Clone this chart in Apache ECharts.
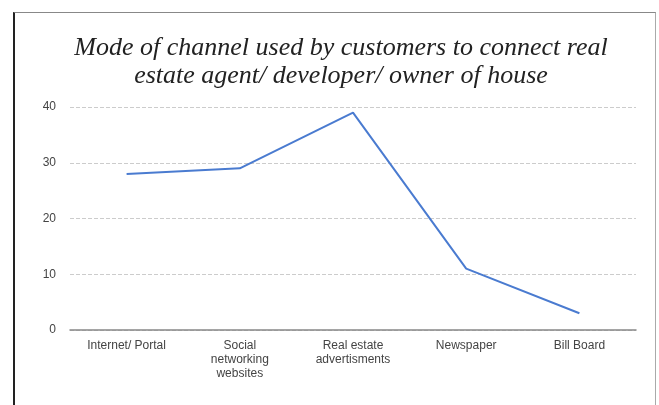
<!DOCTYPE html>
<html>
<head>
<meta charset="utf-8">
<script src="https://cdn.jsdelivr.net/npm/echarts@6/dist/echarts.min.js"></script>
<style>
  html, body { margin: 0; padding: 0; background: #fff; }
  #frame {
    position: absolute; left: 13px; top: 12px; width: 640px; height: 400px;
    border-left: 2px solid #222; border-top: 1px solid #888; border-right: 1px solid #aaa;
  }
  #chart { position: absolute; left: 0; top: 0; width: 659px; height: 405px; }
</style>
</head>
<body>
<div id="frame"></div>
<div id="chart"></div>
<script>
const categories = ['Internet/ Portal', 'Social\nnetworking\nwebsites', 'Real estate\nadvertisments', 'Newspaper', 'Bill Board'];
const values = [28, 29, 39, 11, 3];
const titleText = 'Mode of channel used by customers to connect real\nestate agent/ developer/ owner of house';

const chart = echarts.init(document.getElementById('chart'));
chart.setOption({
  animation: false,
  title: {
    text: titleText,
    left: 336,
    textAlign: 'center',
    top: 29,
    textStyle: {
      fontFamily: 'Liberation Serif',
      fontStyle: 'italic',
      fontWeight: 'normal',
      fontSize: 26,
      lineHeight: 28,
      color: '#222'
    }
  },
  grid: { left: 70, right: 23, top: 107, bottom: 75, containLabel: false },
  xAxis: {
    type: 'category',
    data: categories,
    axisTick: { show: false },
    axisLine: { lineStyle: { color: '#888', width: 1.5 } },
    axisLabel: {
      interval: 0,
      color: '#444',
      fontFamily: 'Liberation Sans',
      fontSize: 12,
      lineHeight: 14,
      margin: 9
    }
  },
  yAxis: {
    type: 'value',
    min: 0,
    max: 40,
    interval: 10,
    axisLine: { show: false },
    axisTick: { show: false },
    axisLabel: { color: '#444', fontFamily: 'Liberation Sans', fontSize: 12, margin: 14 },
    splitLine: { lineStyle: { color: '#ccc', type: 'dashed' } }
  },
  series: [{
    type: 'line',
    data: values,
    symbol: 'none',
    lineStyle: { color: '#4a7bd0', width: 2 }
  }]
});
</script>
</body>
</html>
